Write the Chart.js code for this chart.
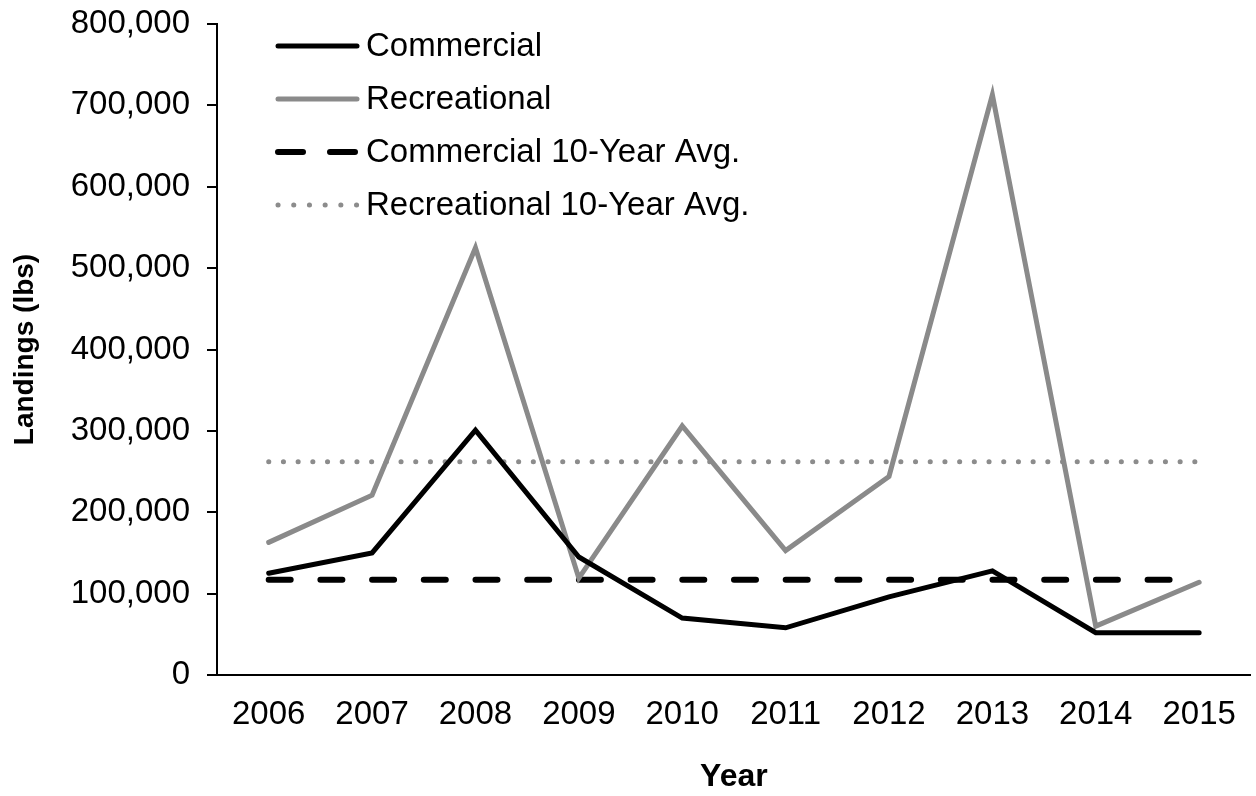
<!DOCTYPE html>
<html>
<head>
<meta charset="utf-8">
<script src="https://cdn.jsdelivr.net/npm/chart.js@4"></script>
<style>
  html, body { margin: 0; padding: 0; background: #fff; }
  #wrap { width: 1256px; height: 796px; }
</style>
</head>
<body>
<div id="wrap"><canvas id="graficaLandings"></canvas></div>
<script>
// ================= DATOS =================
const years = ['2006', '2007', '2008', '2009', '2010', '2011', '2012', '2013', '2014', '2015'];
const commercial   = [125000, 150000, 301000, 145000, 70000, 58000, 96000, 128000, 52000, 52000];
const recreational = [163000, 221000, 525000, 119000, 306000, 153000, 244000, 713000, 60000, 114000];
const commercialAvg   = 117000;
const recreationalAvg = 262000;
const yTicks = [0, 100000, 200000, 300000, 400000, 500000, 600000, 700000, 800000];

const FONT = '"Liberation Sans", Arial, sans-serif';

// ================= LEYENDA (dentro del área) =================
const leyendaInterna = {
    id: 'leyendaInterna',
    afterDraw(chart) {
        const ctx = chart.ctx;
        const x0 = chart.chartArea.left + 58;
        let y = 46;
        ctx.save();
        chart.data.datasets.forEach(ds => {
            ctx.beginPath();
            ctx.strokeStyle = ds.borderColor;
            ctx.lineWidth = ds.borderWidth;
            ctx.lineCap = ds.borderCapStyle || 'butt';
            ctx.setLineDash(ds.legendDash || ds.borderDash || []);
            ctx.moveTo(x0 + 3, y);
            ctx.lineTo(x0 + 82, y);
            ctx.stroke();
            ctx.setLineDash([]);
            ctx.fillStyle = '#000';
            ctx.font = '33px ' + FONT;
            ctx.textBaseline = 'middle';
            ctx.fillText(ds.label, x0 + 91, y + 1);
            y += 53;
        });
        ctx.restore();
    }
};

// ================= GRÁFICA =================
new Chart(document.getElementById('graficaLandings'), {
    type: 'line',
    data: {
        labels: years,
        datasets: [
            {
                label: 'Commercial',
                data: commercial,
                borderColor: '#000000',
                borderWidth: 5,
                borderCapStyle: 'round',
                pointRadius: 0
            },
            {
                label: 'Recreational',
                data: recreational,
                borderColor: '#8a8a8a',
                borderWidth: 5,
                borderCapStyle: 'round',
                pointRadius: 0
            },
            {
                label: 'Commercial 10-Year Avg.',
                data: years.map(() => commercialAvg),
                borderColor: '#000000',
                borderWidth: 6,
                borderDash: [22, 29.7],
                legendDash: [25, 27],
                borderCapStyle: 'round',
                pointRadius: 0
            },
            {
                label: 'Recreational 10-Year Avg.',
                data: years.map(() => recreationalAvg),
                borderColor: '#8c8c8c',
                borderWidth: 5,
                borderDash: [0.1, 14.6],
                legendDash: [0.1, 15.6],
                borderCapStyle: 'round',
                pointRadius: 0
            }
        ]
    },
    options: {
        responsive: true,
        maintainAspectRatio: false,
        animation: false,
        layout: { padding: { top: 24, right: 3, left: 0, bottom: 0 } },
        plugins: { legend: { display: false }, tooltip: { enabled: false } },
        scales: {
            x: {
                offset: true,
                afterFit: axis => { axis.height = 121; },
                grid: { display: false, drawTicks: false },
                border: { color: '#000', width: 2 },
                ticks: { color: '#000', font: { family: FONT, size: 33 }, padding: 20, maxRotation: 0 },
                title: { display: true, text: 'Year', color: '#000', font: { family: FONT, size: 32, weight: 'bold' }, padding: { top: 0, bottom: 0 } }
            },
            y: {
                min: 0,
                max: 800000,
                afterFit: axis => {
                    axis.width = 217;
                    axis.paddingTop = 0;
                    axis.paddingBottom = 0;
                },
                afterBuildTicks: axis => { axis.ticks = yTicks.map(v => ({ value: v })); },
                grid: { display: true, drawOnChartArea: false, tickLength: 10, color: '#000', lineWidth: 2 },
                border: { color: '#000', width: 2 },
                ticks: {
                    color: '#000',
                    font: { family: FONT, size: 33 },
                    padding: 17,
                    callback: v => v.toLocaleString('en-US')
                },
                title: { display: true, text: 'Landings (lbs)', color: '#000', font: { family: FONT, size: 28, weight: 'bold' }, padding: { top: 8, bottom: 0 } }
            }
        }
    },
    plugins: [leyendaInterna]
});
</script>
</body>
</html>
